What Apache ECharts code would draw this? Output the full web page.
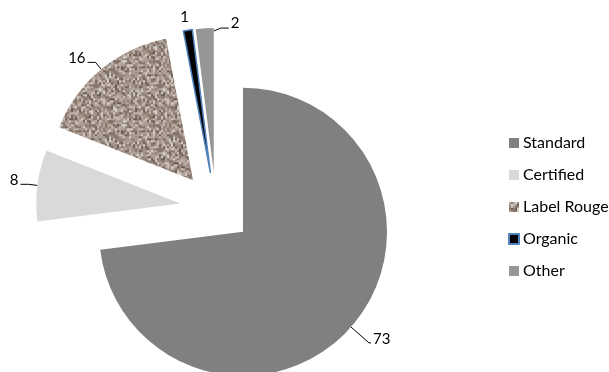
<!DOCTYPE html>
<html>
<head>
<meta charset="utf-8">
<script src="https://cdn.jsdelivr.net/npm/echarts@6/dist/echarts.min.js"></script>
<style>
  html, body { margin: 0; padding: 0; background: #fff; }
  #chart { width: 609px; height: 372px; }
</style>
</head>
<body>
<div id="chart"></div>
<script>
// Market shares by production standard (percent)
const categories = ['Standard', 'Certified', 'Label Rouge', 'Organic', 'Other'];
const shares = [73, 8, 16, 1, 2];

// Granite-like speckle tile for the Label Rouge slice (deterministic hash noise)
function graniteTile() {
  const size = 64;
  const c = document.createElement('canvas');
  c.width = size; c.height = size;
  const ctx = c.getContext('2d');
  const palette = ['#a6978e', '#b4a79f', '#8e7d72', '#c4b9b1', '#6e5d52', '#9c8d85', '#d6cdc6', '#ab9c93', '#857468'];
  function hash(x, y) {
    let h = (x * 374761393 + y * 668265263) | 0;
    h = Math.imul(h ^ (h >>> 13), 1274126177);
    h = h ^ (h >>> 16);
    return (h >>> 0) / 4294967296;
  }
  ctx.fillStyle = '#a69890';
  ctx.fillRect(0, 0, size, size);
  for (let y = 0; y < size; y += 2) {
    for (let x = 0; x < size; x += 2) {
      const v = hash(x + 11, y + 5);
      ctx.fillStyle = palette[Math.floor(v * palette.length)];
      const w = hash(y + 7, x + 3) > 0.5 ? 3 : 2;
      const h = hash(x + 19, y + 23) > 0.6 ? 3 : 2;
      ctx.fillRect(x, y, w, h);
    }
  }
  return c;
}

const colors = ['#808080', '#d9d9d9', { image: graniteTile(), repeat: 'repeat' }, '#000000', '#969696'];

const seriesData = categories.map((name, i) => {
  const item = {
    name: name,
    value: shares[i],
    selected: true,
    itemStyle: { color: colors[i] }
  };
  if (name === 'Standard') {
    item.labelLine = { length: 24, length2: 2 };
  }
  if (name === 'Organic') {
    item.itemStyle.borderColor = '#4f81bd';
    item.itemStyle.borderWidth = 1.5;
    item.labelLine = { show: false };
  }
  return item;
});

const chart = echarts.init(document.getElementById('chart'), null, { renderer: 'canvas' });
chart.setOption({
  animation: false,
  legend: {
    orient: 'vertical',
    left: 508,
    top: 135,
    padding: 0,
    itemWidth: 10,
    itemHeight: 10,
    itemGap: 16,
    icon: 'rect',
    selectedMode: false,
    textStyle: { fontFamily: 'Lato', fontSize: 16, color: '#000', padding: [0, 0, 0, -1] },
    data: categories
  },
  series: [{
    type: 'pie',
    center: [216, 208],
    radius: 144,
    startAngle: 90,
    clockwise: true,
    selectedMode: 'multiple',
    selectedOffset: 36,
    avoidLabelOverlap: false,
    emphasis: { disabled: true },
    label: {
      show: true,
      position: 'outside',
      formatter: '{c}',
      fontFamily: 'Lato',
      fontSize: 15,
      color: '#000',
      distanceToLabelLine: 2
    },
    labelLine: {
      show: true,
      length: 9,
      length2: 8,
      lineStyle: { color: '#000', width: 1 }
    },
    // Values sit a little above their leaders; the two thin top slices get
    // their labels placed relative to their own sector box
    labelLayout: function (params) {
      const r = params.rect;
      const l = params.labelRect;
      const cx = l.x + l.width / 2;
      const cy = l.y + l.height / 2;
      if (params.dataIndex === 3) {
        return { dx: (r.x + 2) - cx, dy: (r.y - 12) - cy };
      }
      if (params.dataIndex === 4) {
        const right = r.x + r.width;
        const top = r.y;
        return {
          dx: (right + 17) - l.x,
          dy: (top - 5) - cy,
          labelLinePoints: [[right, top + 3], [right + 7, top], [right + 15, top]]
        };
      }
      return { dy: -4 };
    },
    itemStyle: { borderWidth: 0 },
    data: seriesData
  }]
});
</script>
</body>
</html>
